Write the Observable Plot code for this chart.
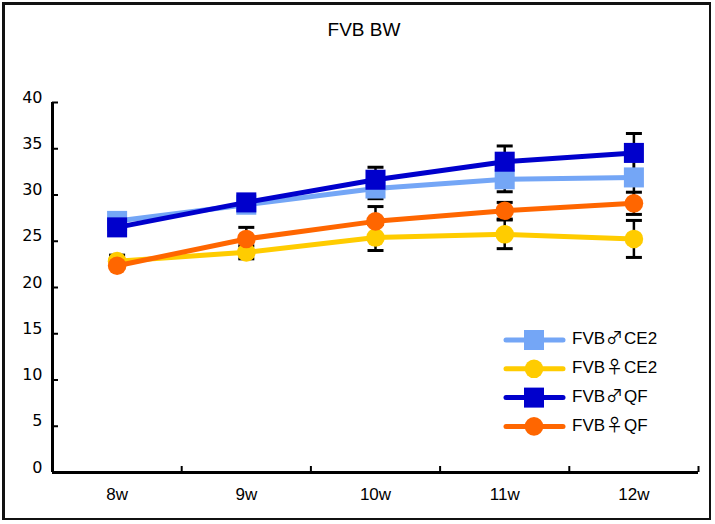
<!DOCTYPE html>
<html><head><meta charset="utf-8">
<script src="https://cdn.jsdelivr.net/npm/d3@7"></script>
<script src="https://cdn.jsdelivr.net/npm/@observablehq/plot@0.6"></script>
<style>
body{margin:0;background:#fff;}
#wrap{position:relative;width:715px;height:524px;overflow:hidden;font-family:"Liberation Sans",Arial,sans-serif;background:#fff;}
#border{position:absolute;left:2px;top:2px;width:709px;height:518px;box-sizing:border-box;border-style:solid;border-color:#111;border-width:3px 2px 2px 3px;pointer-events:none;}
#title{position:absolute;left:0;width:728px;top:19px;line-height:22px;text-align:center;font-size:19px;color:#000;}
#chart{position:absolute;left:0;top:0;}
#legend{position:absolute;left:0;top:0;}
</style></head><body>
<div id="wrap"><div id="chart"></div><div id="title">FVB BW</div><div id="border"></div><svg id="legend" width="715" height="524"></svg></div>
<script>
// ---- data ----
const weeks = ["8w", "9w", "10w", "11w", "12w"];
const seriesNames = ["FVB♂CE2", "FVB♀CE2", "FVB♂QF", "FVB♀QF"];
const seriesColors = ["#74A6F6", "#FFCC00", "#0000CC", "#FF6600"];
const seriesSymbols = ["square", "circle", "square", "circle"];
const maleCE2Mean   = [27.2, 28.95, 30.7, 31.7, 31.9];
const femaleCE2Mean = [22.85, 23.8, 25.4, 25.75, 25.25];
const maleQFMean    = [26.5, 29.2, 31.65, 33.6, 34.55];
const femaleQFMean  = [22.35, 25.25, 27.15, 28.3, 29.1];
const maleCE2SD   = [0.4, 0.5, 1.1, 1.35, 2.7];
const femaleCE2SD = [0.65, 0.7, 1.4, 1.55, 2.0];
const maleQFSD    = [0.4, 0.6, 1.35, 1.7, 2.1];
const femaleQFSD  = [0.3, 1.25, 1.6, 0.9, 1.2];
const yTicks = [0, 5, 10, 15, 20, 25, 30, 35, 40];

const means = [maleCE2Mean, femaleCE2Mean, maleQFMean, femaleQFMean];
const sds = [maleCE2SD, femaleCE2SD, maleQFSD, femaleQFSD];
const rows = [];
seriesNames.forEach((s, k) => weeks.forEach((w, i) => rows.push({series: s, k, week: w, pos: i + 0.5, mean: means[k][i], sd: sds[k][i]})));
const ends = rows.flatMap(d => [{pos: d.pos, v: d.mean - d.sd}, {pos: d.pos, v: d.mean + d.sd}]);
const bandTicks = weeks.map((w, i) => i + 0.5);
const boundaryTicks = weeks.map((w, i) => i + 1);

const capSymbol = {draw(ctx, size) { const r = Math.sqrt(size / Math.PI); ctx.moveTo(-r, 0); ctx.lineTo(r, 0); }};

const seriesMarks = seriesNames.flatMap((s, k) => {
  const data = rows.filter(d => d.k === k);
  return [
    Plot.line(data, {x: "pos", y: "mean", stroke: seriesColors[k], strokeWidth: 5}),
    Plot.dot(data, {x: "pos", y: "mean", fill: seriesColors[k], symbol: seriesSymbols[k], r: seriesSymbols[k] === "square" ? 11.3 : 9.3})
  ];
});

const chart = Plot.plot({
  width: 715, height: 524,
  marginLeft: 52, marginRight: 17, marginTop: 102, marginBottom: 52,
  style: {background: "transparent", fontFamily: "Liberation Sans, Arial, sans-serif", color: "#000", overflow: "visible"},
  x: {type: "linear", domain: [0, 5]},
  y: {domain: [0, 40]},
  marks: [
    Plot.axisY(yTicks, {tickSize: 0, tickPadding: 10, dy: -5, fontSize: 16, fontFamily: "DejaVu Sans, sans-serif", label: null}),
    Plot.axisY(yTicks, {tickSize: -6, strokeWidth: 2, tickFormat: () => "", label: null}),
    Plot.axisX(bandTicks, {tickSize: 0, tickPadding: 15, fontSize: 17, tickFormat: v => weeks[v - 0.5], label: null}),
    Plot.axisX(boundaryTicks, {tickSize: -6, strokeWidth: 2, tickFormat: () => "", label: null}),
    Plot.ruleX([0], {stroke: "#000", strokeWidth: 3}),
    Plot.ruleY([0], {stroke: "#000", strokeWidth: 3}),
    Plot.ruleX(rows, {x: "pos", y1: d => d.mean - d.sd, y2: d => d.mean + d.sd, stroke: "#000", strokeWidth: 2.5}),
    Plot.dot(ends, {x: "pos", y: "v", symbol: capSymbol, r: 8, stroke: "#000", strokeWidth: 3, fill: "none"}),
    ...seriesMarks
  ]
});
document.getElementById("chart").appendChild(chart);

// ---- legend ----
const lg = d3.select("#legend");
seriesNames.forEach((s, k) => {
  const cy = 340 + k * 28.8;
  const g = lg.append("g");
  g.append("line").attr("x1", 506).attr("x2", 563).attr("y1", cy).attr("y2", cy)
    .attr("stroke", seriesColors[k]).attr("stroke-width", 5).attr("stroke-linecap", "round");
  if (seriesSymbols[k] === "square") {
    g.append("rect").attr("x", 534 - 10).attr("y", cy - 10).attr("width", 20).attr("height", 20).attr("fill", seriesColors[k]);
  } else {
    g.append("circle").attr("cx", 534).attr("cy", cy).attr("r", 9.3).attr("fill", seriesColors[k]);
  }
  const t = g.append("text").attr("x", 572).attr("y", cy - 2).attr("dy", "0.36em").attr("font-size", 17)
    .attr("font-family", "Liberation Sans, Arial, sans-serif");
  t.append("tspan").text(s.slice(0, 3));
  t.append("tspan").attr("font-family", "Noto Sans CJK JP").attr("dx", 1).text(s.slice(3, 4));
  t.append("tspan").attr("dx", 1).text(s.slice(4));
});
</script>
</body></html>
